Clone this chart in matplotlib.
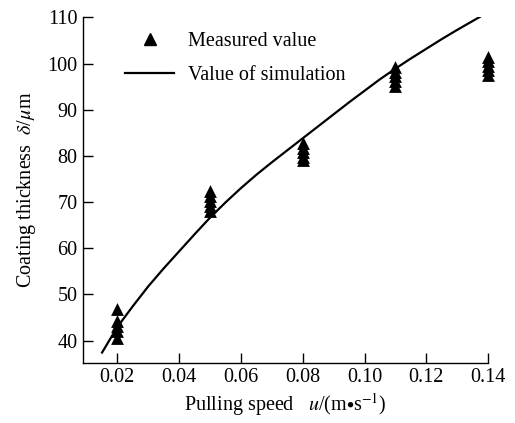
import matplotlib
matplotlib.use("Agg")
import matplotlib.pyplot as plt
from matplotlib.lines import Line2D

# measured coating thickness at each pulling speed (several repeats)
meas_speed = [0.02] * 5 + [0.05] * 5 + [0.08] * 5 + [0.11] * 5 + [0.14] * 5
meas_thick = [46.8, 44.3, 43.2, 42.0, 40.6,
              72.3, 71.2, 70.2, 69.1, 68.0,
              82.8, 81.8, 80.8, 79.8, 79.0,
              99.3, 98.2, 97.2, 96.2, 95.2,
              101.5, 100.5, 99.5, 98.5, 97.5]

# simulated curve
sim_speed = [0.0151, 0.02, 0.025, 0.03, 0.035, 0.04, 0.045, 0.05, 0.055,
             0.06, 0.065, 0.07, 0.075, 0.08, 0.085, 0.09, 0.095, 0.10,
             0.105, 0.11, 0.115, 0.12, 0.125, 0.13, 0.1373]
sim_thick = [37.4, 42.9, 47.4, 51.7, 55.6, 59.3, 63.0, 66.6, 69.9,
             73.0, 75.9, 78.6, 81.2, 83.8, 86.4, 89.0, 91.6, 94.1,
             96.6, 98.9, 101.1, 103.2, 105.3, 107.3, 110.1]

xticks = [0.02, 0.04, 0.06, 0.08, 0.10, 0.12, 0.14]
yticks = [40, 50, 60, 70, 80, 90, 100, 110]

plt.rcParams["font.family"] = ["Liberation Serif", "DejaVu Serif"]
plt.rcParams["mathtext.fontset"] = "stix"
fs = 14.5

fig = plt.figure(figsize=(5.15, 4.23), dpi=100)
ax = fig.add_axes([0.161, 0.1426, 0.787, 0.8164])

ax.plot(sim_speed, sim_thick, color="black", lw=1.6)
ax.scatter(meas_speed, meas_thick, marker="^", s=85, color="black",
           linewidths=0, zorder=3, clip_on=False)

ax.set_xlim(0.0089, 0.14)
ax.set_ylim(35.2, 110)
ax.set_xticks(xticks)
ax.set_xticklabels([f"{t:.2f}" for t in xticks])
ax.set_yticks(yticks)
ax.tick_params(direction="in", length=7, width=1, labelsize=fs,
               colors="black", pad=4)
for side in ["top", "right"]:
    ax.spines[side].set_visible(False)
for side in ["left", "bottom"]:
    ax.spines[side].set_linewidth(1)

ax.set_xlabel(r"Pulling speed   $u$/(m$\bullet$s$^{-1}$)", fontsize=fs,
              labelpad=3)
ax.set_ylabel(r"Coating thickness  $\delta$/$\mu$m", fontsize=fs,
              labelpad=7)

handles = [Line2D([], [], marker="^", color="black", ls="none",
                  markersize=9),
           Line2D([], [], color="black", lw=1.6)]
ax.legend(handles, ["Measured value", "Value of simulation"],
          loc="upper left", bbox_to_anchor=(0.06, 1.01), frameon=False,
          fontsize=fs, handlelength=2.4, handletextpad=0.7,
          labelspacing=0.75)

fig.savefig("out.png", dpi=100)
